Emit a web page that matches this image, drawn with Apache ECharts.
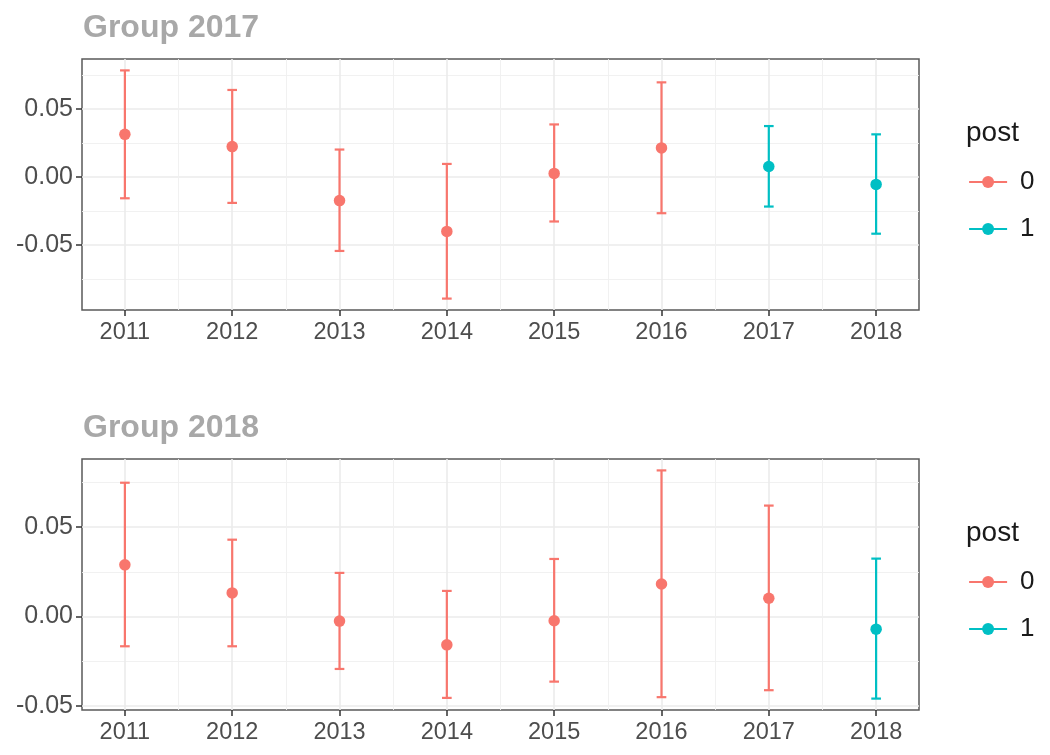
<!DOCTYPE html>
<html>
<head>
<meta charset="utf-8">
<script src="https://cdn.jsdelivr.net/npm/echarts@6/dist/echarts.min.js"></script>
<style>
  html, body { margin: 0; padding: 0; background: #fff; }
  #chart { width: 1050px; height: 755px; }
</style>
</head>
<body>
<div id="chart"></div>
<script>
  // data
  const years = [2011, 2012, 2013, 2014, 2015, 2016, 2017, 2018];

  const g2017Est  = [0.0315, 0.0225, -0.0173, -0.0400, 0.0027, 0.0215, 0.0078, -0.0054];
  const g2017Lo   = [-0.0156, -0.0190, -0.0544, -0.0895, -0.0327, -0.0266, -0.0217, -0.0417];
  const g2017Hi   = [0.0786, 0.0642, 0.0203, 0.0097, 0.0388, 0.0698, 0.0376, 0.0315];
  const g2017Post = [0, 0, 0, 0, 0, 0, 1, 1];

  const g2018Est  = [0.0289, 0.0132, -0.0026, -0.0159, -0.0024, 0.0182, 0.0102, -0.0071];
  const g2018Lo   = [-0.0167, -0.0167, -0.0294, -0.0456, -0.0365, -0.0452, -0.0413, -0.0460];
  const g2018Hi   = [0.0749, 0.0430, 0.0244, 0.0143, 0.0322, 0.0818, 0.0621, 0.0324];
  const g2018Post = [0, 0, 0, 0, 0, 0, 0, 1];

  const yMajor = [-0.05, 0, 0.05];
  const yMinor = [-0.075, -0.025, 0.025, 0.075];
  const xMinor = [2011.5, 2012.5, 2013.5, 2014.5, 2015.5, 2016.5, 2017.5];

  const postColors = ['#F8766D', '#00BFC4'];
  const capHalf = 0.045;

  const panels = [
    { title: 'Group 2017', est: g2017Est, lo: g2017Lo, hi: g2017Hi, post: g2017Post, top: 59 },
    { title: 'Group 2018', est: g2018Est, lo: g2018Lo, hi: g2018Hi, post: g2018Post, top: 459 }
  ];

  // ggplot style 5% expansion
  function expand(lo, hi) {
    const d = (hi - lo) * 0.05;
    return [lo - d, hi + d];
  }
  const xExt = expand(years[0] - capHalf, years[years.length - 1] + capHalf);

  function renderErrorBar(params, api) {
    const x = api.value(0);
    const top = api.coord([x, api.value(2)]);
    const bot = api.coord([x, api.value(1)]);
    const l = api.coord([x - capHalf, api.value(2)])[0];
    const r = api.coord([x + capHalf, api.value(2)])[0];
    const style = { stroke: api.visual('color'), lineWidth: 2.2, fill: null };
    return {
      type: 'group',
      children: [
        { type: 'line', shape: { x1: top[0], y1: top[1], x2: bot[0], y2: bot[1] }, style: style },
        { type: 'line', shape: { x1: l, y1: top[1], x2: r, y2: top[1] }, style: style },
        { type: 'line', shape: { x1: l, y1: bot[1], x2: r, y2: bot[1] }, style: style }
      ]
    };
  }

  const grids = [], xAxes = [], yAxes = [], titles = [], legends = [], pointSeries = [], barSeries = [];

  panels.forEach((p, i) => {
    const yExt = expand(Math.min(...p.lo), Math.max(...p.hi));

    grids.push({
      left: 82, right: 131, top: p.top, height: 251,
      show: true, backgroundColor: '#fff', borderColor: '#595959', borderWidth: 1.5
    });

    titles.push({
      text: p.title, left: 78, top: p.top - 52,
      textStyle: { fontFamily: 'Liberation Sans', fontSize: 32, fontWeight: 'bold', color: '#a8a8a8' }
    });
    titles.push({
      text: 'post', left: 961, top: p.top + 55,
      textStyle: { fontFamily: 'Liberation Sans', fontSize: 28, fontWeight: 'normal', color: '#1a1a1a' }
    });

    legends.push({
      orient: 'vertical', left: 968, top: p.top + 110, padding: 0,
      itemWidth: 38, itemHeight: 15, itemGap: 21,
      selectedMode: false,
      data: ['0', '1'],
      lineStyle: { opacity: 1, width: 2.2 },
      textStyle: { fontFamily: 'Liberation Sans', fontSize: 26, color: '#1a1a1a', padding: [0, 0, 0, 8] }
    });

    // major axes
    xAxes.push({
      type: 'value', gridIndex: i, min: xExt[0], max: xExt[1],
      axisLine: { show: false, onZero: false },
      axisTick: { customValues: years, length: 6, lineStyle: { color: '#333', width: 1.5 } },
      axisLabel: {
        customValues: years, margin: 11, fontFamily: 'Liberation Sans', fontSize: 23.5, color: '#4d4d4d',
        formatter: v => String(v)
      },
      splitLine: { show: true, lineStyle: { color: '#ebebeb', width: 1.6 } }
    });
    yAxes.push({
      type: 'value', gridIndex: i, min: yExt[0], max: yExt[1],
      axisLine: { show: false, onZero: false },
      axisTick: { customValues: yMajor, length: 6, lineStyle: { color: '#333', width: 1.5 } },
      axisLabel: {
        customValues: yMajor, margin: 9, fontFamily: 'Liberation Sans', fontSize: 25, color: '#4d4d4d',
        formatter: v => v.toFixed(2)
      },
      splitLine: { show: true, lineStyle: { color: '#ebebeb', width: 1.6 } }
    });
    // minor grid lines
    xAxes.push({
      type: 'value', gridIndex: i, min: xExt[0], max: xExt[1], position: 'top',
      axisLine: { show: false, onZero: false },
      axisTick: { show: false, customValues: xMinor },
      axisLabel: { show: false },
      splitLine: { show: true, lineStyle: { color: '#efefef', width: 0.9 } }
    });
    yAxes.push({
      type: 'value', gridIndex: i, min: yExt[0], max: yExt[1], position: 'right',
      axisLine: { show: false, onZero: false },
      axisTick: { show: false, customValues: yMinor },
      axisLabel: { show: false },
      splitLine: { show: true, lineStyle: { color: '#efefef', width: 0.9 } }
    });

    [0, 1].forEach(g => {
      const idx = years.map((y, k) => k).filter(k => p.post[k] === g);
      pointSeries.push({
        name: String(g), type: 'line', xAxisIndex: i * 2, yAxisIndex: i * 2,
        color: postColors[g], symbol: 'circle', symbolSize: 11.5, z: 4,
        lineStyle: { opacity: 0 }, emphasis: { disabled: true },
        data: idx.map(k => [years[k], p.est[k]])
      });
      barSeries.push({
        name: String(g), type: 'custom', xAxisIndex: i * 2, yAxisIndex: i * 2,
        color: postColors[g], z: 3, clip: false,
        renderItem: renderErrorBar,
        encode: { x: 0, y: [1, 2] },
        data: idx.map(k => [years[k], p.lo[k], p.hi[k]])
      });
    });
  });

  const chart = echarts.init(document.getElementById('chart'));
  chart.setOption({
    animation: false,
    backgroundColor: '#fff',
    title: titles,
    legend: legends,
    grid: grids,
    xAxis: xAxes,
    yAxis: yAxes,
    series: pointSeries.concat(barSeries)
  });
</script>
</body>
</html>
